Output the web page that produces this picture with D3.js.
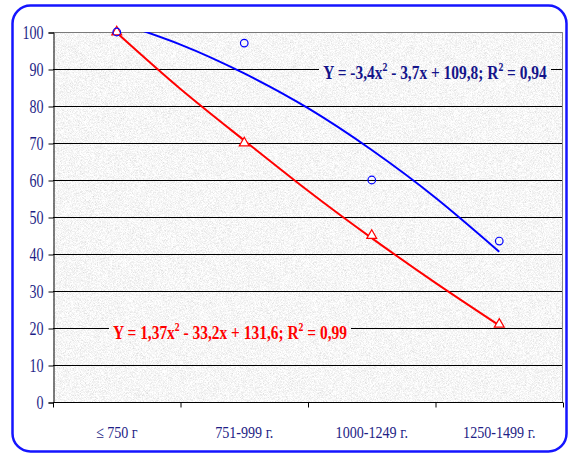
<!DOCTYPE html>
<html>
<head>
<meta charset="utf-8">
<script src="https://cdn.jsdelivr.net/npm/d3@7"></script>
<style>
  body { margin: 0; background: #fff; }
</style>
</head>
<body>
<div id="chart"></div>
<script>
// data
var categories = ["\u2264 750 г", "751-999 г.", "1000-1249 г.", "1250-1499 г."];
var circleValues = [100, 97, 60, 43.5];
var triangleValues = [100, 70, 45, 21];
var yTicks = [0, 10, 20, 30, 40, 50, 60, 70, 80, 90, 100];
// trend lines sampled at half-category steps
var trendX = [1, 1.5, 2, 2.5, 3, 3.5, 4];
var blueTrend = [102.7, 96.6, 88.8, 79.4, 68.1, 55.2, 40.6];
var redTrend = [99.8, 84.6, 70.7, 57.1, 44.3, 32.2, 20.7];
var blueLabel = "Y = -3,4x² - 3,7x + 109,8; R² = 0,94";
var redLabel = "Y = 1,37x² - 33,2x + 131,6; R² = 0,99";

var svgWidth = 569;
var svgHeight = 454;
var plot = { left: 53, right: 563, top: 32, bottom: 402 };
var navy = "#1e1e86";
var serif = "'Liberation Serif', 'Times New Roman', Tinos, 'DejaVu Serif', serif";
var squeeze = 0.78; // text in the original is horizontally condensed

var svg = d3.select("#chart")
    .append("svg")
    .attr("width", svgWidth)
    .attr("height", svgHeight)
    .attr("font-family", serif);

var defs = svg.append("defs");
var filter = defs.append("filter")
    .attr("id", "granite")
    .attr("x", 0).attr("y", 0).attr("width", "100%").attr("height", "100%");
filter.append("feTurbulence")
    .attr("type", "fractalNoise")
    .attr("baseFrequency", 1.4)
    .attr("numOctaves", 2)
    .attr("seed", 4);
filter.append("feColorMatrix")
    .attr("type", "saturate")
    .attr("values", 0);
var ct = filter.append("feComponentTransfer");
["feFuncR", "feFuncG", "feFuncB"].forEach(function(f) {
    ct.append(f).attr("type", "linear").attr("slope", 0.75).attr("intercept", 0.55);
});
ct.append("feFuncA").attr("type", "linear").attr("slope", 0).attr("intercept", 1);

defs.append("clipPath").attr("id", "plotClip")
    .append("rect")
    .attr("x", plot.left).attr("y", plot.top)
    .attr("width", plot.right - plot.left)
    .attr("height", plot.bottom - plot.top);

// outer rounded frame
svg.append("rect")
    .attr("x", 12.5).attr("y", 5.5)
    .attr("width", 554).attr("height", 446)
    .attr("rx", 18)
    .attr("fill", "#fff")
    .attr("stroke", "#1515ff")
    .attr("stroke-width", 2.5);

var x = d3.scaleLinear()
    .domain([0.5, 4.5])
    .range([plot.left, plot.right]);

var y = d3.scaleLinear()
    .domain([0, 100])
    .range([plot.bottom, plot.top]);

// plot background
svg.append("rect")
    .attr("x", plot.left).attr("y", plot.top)
    .attr("width", plot.right - plot.left)
    .attr("height", plot.bottom - plot.top)
    .attr("filter", "url(#granite)");

// gridlines
svg.append("g")
    .selectAll("line")
    .data(yTicks.filter(function(d) { return d > 0; }))
    .enter()
    .append("line")
    .attr("x1", plot.left).attr("x2", plot.right)
    .attr("y1", function(d) { return Math.round(y(d)) + 0.5; })
    .attr("y2", function(d) { return Math.round(y(d)) + 0.5; })
    .attr("stroke", function(d) { return d === 100 ? "#7a7a7a" : "#000"; })
    .attr("stroke-width", 1);

svg.append("line")
    .attr("x1", plot.right - 0.5).attr("x2", plot.right - 0.5)
    .attr("y1", plot.top).attr("y2", plot.bottom)
    .attr("stroke", "#8a8a8a");

// y axis
var yAxis = svg.append("g")
    .attr("transform", "translate(" + (plot.left + 0.5) + ",0.5)")
    .call(d3.axisLeft(y).tickValues(yTicks).tickSize(5).tickPadding(5));
yAxis.attr("font-family", serif).attr("font-size", 18);
yAxis.selectAll("path, line").attr("stroke", "#000");
yAxis.selectAll("text")
    .attr("fill", navy)
    .attr("x", 0)
    .attr("dy", "0.33em")
    .attr("transform", "translate(-10,0) scale(" + squeeze + ",1)");

// x axis: ticks at category boundaries
var xAxis = svg.append("g")
    .attr("transform", "translate(0," + (plot.bottom + 0.5) + ")")
    .call(d3.axisBottom(x).tickValues([0.5, 1.5, 2.5, 3.5, 4.5]).tickSize(5).tickFormat(""));
xAxis.selectAll("path, line").attr("stroke", "#000");
xAxis.select("path").attr("d", "M" + plot.left + ",0H" + plot.right);

svg.append("g")
    .selectAll("text")
    .data(categories)
    .enter()
    .append("text")
    .attr("transform", function(d, i) { return "translate(" + x(i + 1) + ",438) scale(0.83,1)"; })
    .attr("text-anchor", "middle")
    .attr("fill", navy)
    .attr("font-size", 17)
    .text(function(d) { return d; });

// trend lines
var line = d3.line()
    .x(function(d) { return x(d[0]); })
    .y(function(d) { return y(d[1]); })
    .curve(d3.curveNatural);

var lines = svg.append("g").attr("clip-path", "url(#plotClip)");
lines.append("path")
    .datum(d3.zip(trendX, blueTrend))
    .attr("d", line)
    .attr("fill", "none")
    .attr("stroke", "#0000ff")
    .attr("stroke-width", 2);
lines.append("path")
    .datum(d3.zip(trendX, redTrend))
    .attr("d", line)
    .attr("fill", "none")
    .attr("stroke", "#ff0000")
    .attr("stroke-width", 2);

// markers
svg.append("g")
    .selectAll("path")
    .data(triangleValues)
    .enter()
    .append("path")
    .attr("transform", function(d, i) { return "translate(" + x(i + 1) + "," + y(d) + ")"; })
    .attr("d", d3.symbol(d3.symbolTriangle, 42))
    .attr("fill", "#fff")
    .attr("stroke", "#ff0000")
    .attr("stroke-width", 1.2);

svg.append("g")
    .selectAll("circle")
    .data(circleValues)
    .enter()
    .append("circle")
    .attr("cx", function(d, i) { return x(i + 1); })
    .attr("cy", function(d) { return y(d); })
    .attr("r", 3.8)
    .attr("fill", "none")
    .attr("stroke", "#0000ff")
    .attr("stroke-width", 1.2);

// trend equations
function equation(label, cx, baseline, width, color) {
    var g = svg.append("g");
    var t = g.append("text")
        .attr("x", 0)
        .attr("y", 0)
        .attr("text-anchor", "middle")
        .attr("fill", color)
        .attr("font-size", 19)
        .attr("font-weight", "bold");
    var raised = false;
    label.split(/(²)/).forEach(function(part) {
        if (part === "²") {
            t.append("tspan").attr("dy", -8).attr("font-size", 12).text("2");
            raised = true;
        } else if (part.length) {
            t.append("tspan").attr("dy", raised ? 8 : 0).text(part);
            raised = false;
        }
    });
    var bb = t.node().getBBox();
    var sx = width / bb.width;
    g.attr("transform", "translate(" + cx + "," + baseline + ") scale(" + sx + ",1)");
    g.insert("rect", "text")
        .attr("x", bb.x - 4).attr("y", bb.y + 2)
        .attr("width", bb.width + 8).attr("height", bb.height - 4)
        .attr("filter", "url(#granite)");
}

equation(blueLabel, 435, 79, 224, "#14148a");
equation(redLabel, 230, 339, 234, "#ff0000");
</script>
</body>
</html>
